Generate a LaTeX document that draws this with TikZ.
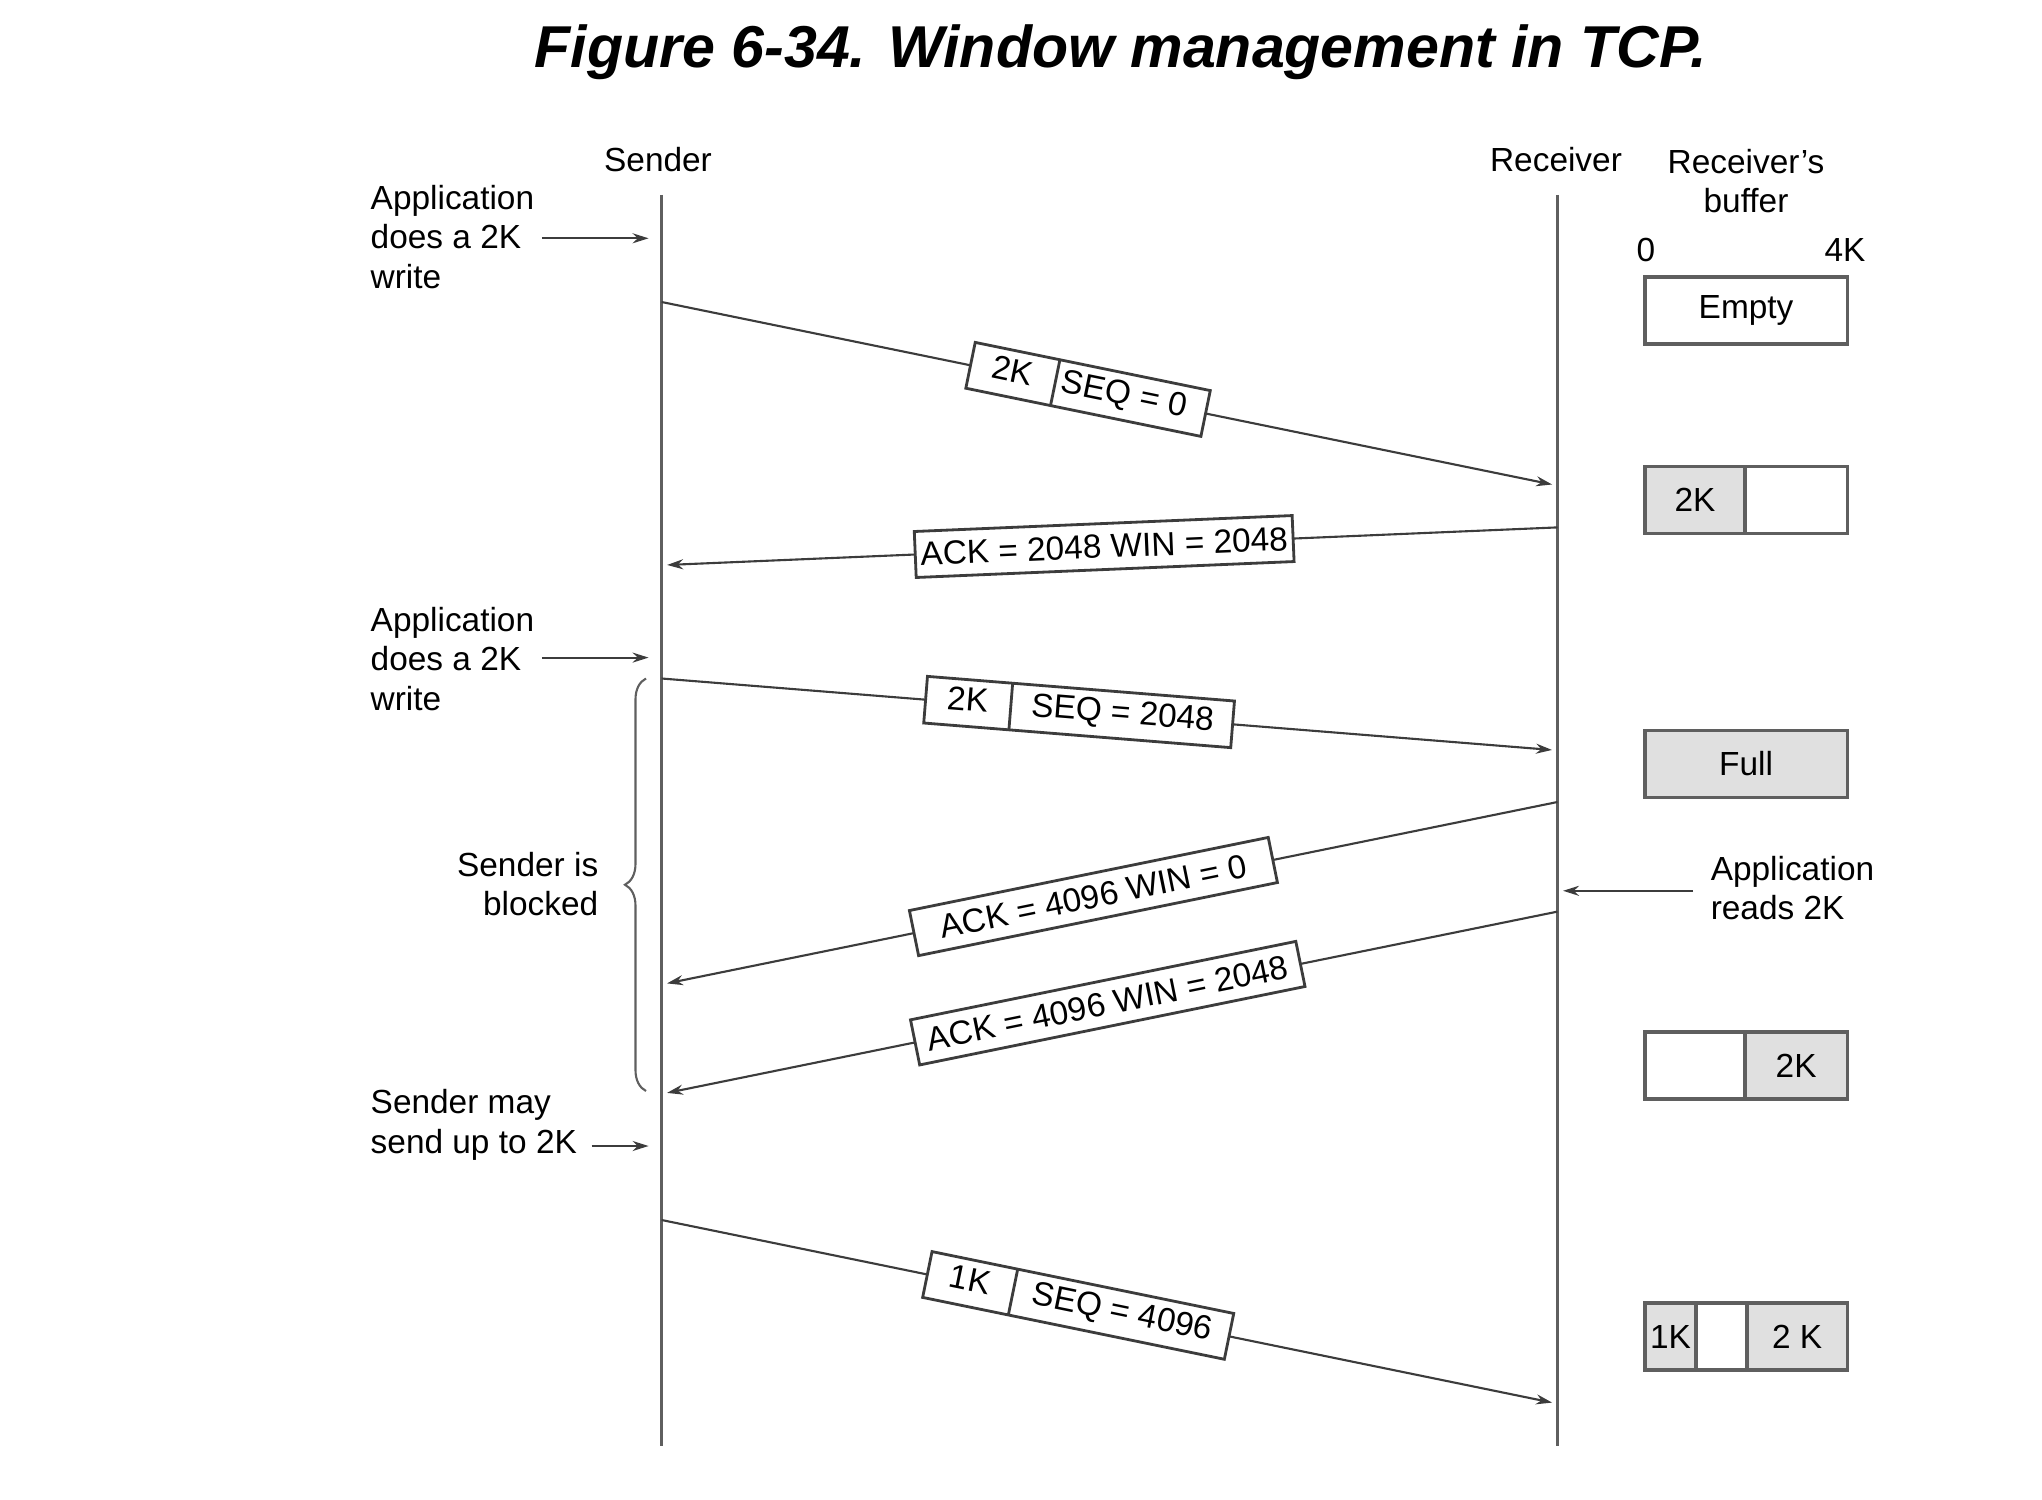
\documentclass[tikz,border=0pt]{standalone}
\usepackage{fontspec}
\setmainfont{Liberation Sans}
\usepackage{tikz}
\usetikzlibrary{shapes.multipart, arrows.meta, positioning, calc, decorations.pathreplacing}
\definecolor{lifegray}{RGB}{95, 95, 95}
\definecolor{linegray}{RGB}{60, 60, 60}
\definecolor{bufshade}{RGB}{224, 224, 224}

\begin{document}
\begin{tikzpicture}[x=0.01cm, y=-0.01cm,
  lbl/.style={font=\fontsize{9.5}{11.3}\selectfont, inner sep=2pt},
  lifeline/.style={draw=lifegray, line width=0.9pt},
  msg/.style={draw=linegray, line width=0.6pt, -{Stealth[length=1.6mm, width=1mm]}, shorten >=0.55mm},
  note/.style={draw=linegray, line width=0.6pt, -{Stealth[length=1.6mm, width=1mm]}},
  seg/.style={draw=linegray, line width=0.8pt, fill=white, rectangle split, rectangle split horizontal, rectangle split parts=2, inner xsep=0pt, inner ysep=1pt, font=\fontsize{9.5}{11.3}\selectfont, sloped},
  ackbox/.style={draw=linegray, line width=0.8pt, fill=white, inner sep=1pt, minimum height=0.46cm, font=\fontsize{9.5}{11.3}\selectfont, sloped},
  buf/.style={draw=lifegray, line width=0.9pt, minimum height=0.67cm, inner sep=0pt, outer sep=0pt, anchor=west, font=\fontsize{9.5}{11.3}\selectfont},
  fullbuf/.style={buf, fill=bufshade}]

  \useasboundingbox (0,0) rectangle (2042,1500);

  % Title
  \node[font=\fontsize{16.8}{20}\selectfont\bfseries\itshape] (title) at (1121,52) {Figure 6-34. Window management in TCP.};

  % Headers
  \node[lbl] (sndr) at (658,160) {Sender};
  \node[lbl] (rcvr) at (1556,160) {Receiver};
  \node[lbl, align=center] (rbuf) at (1746,181) {Receiver's\\buffer};
  \node[lbl] (zero) at (1646,250) {0};
  \node[lbl] (fourk) at (1845,250) {4K};

  % Lifelines
  \coordinate (stop) at (661.6,195);
  \coordinate (sbot) at (661.6,1446);
  \coordinate (rtop) at (1557.5,195);
  \coordinate (rbot) at (1557.5,1446);
  \draw[lifeline] (stop) -- (sbot);
  \draw[lifeline] (rtop) -- (rbot);

  % Segments and acknowledgements
  \coordinate (s1) at (661.6,302);
  \coordinate (r1) at (1557.5,485.6);
  \draw[msg] (s1) -- node[seg, pos=0.476] (seg1) {\makebox[8.5mm]{\strut 2K}\nodepart{two}\makebox[15.2mm][l]{\hspace{0.5mm}\strut SEQ = 0}} (r1);

  \coordinate (r2) at (1557.5,527.4);
  \coordinate (s2) at (661.6,565.2);
  \draw[msg] (r2) -- node[ackbox, pos=0.506, minimum width=3.78cm] (ack1) {ACK = 2048 WIN = 2048} (s2);

  \coordinate (s3) at (661.6,678.5);
  \coordinate (r3) at (1557.5,750.4);
  \draw[msg] (s3) -- node[seg, pos=0.466] (seg2) {\makebox[8.4mm]{\strut 2K}\nodepart{two}\makebox[22.1mm]{\strut SEQ = 2048}} (r3);

  \coordinate (r4) at (1557.5,802);
  \coordinate (s4) at (661.6,984.5);
  \draw[msg] (r4) -- node[ackbox, pos=0.518, minimum width=3.66cm] (ack2) {ACK = 4096 WIN = 0} (s4);

  \coordinate (r5) at (1557.5,911.6);
  \coordinate (s5) at (661.6,1094);
  \draw[msg] (r5) -- node[ackbox, pos=0.502, minimum width=3.93cm] (ack3) {ACK = 4096 WIN = 2048} (s5);

  \coordinate (s6) at (661.6,1220);
  \coordinate (r6) at (1557.5,1403.7);
  \draw[msg] (s6) -- node[seg, pos=0.465] (seg3) {\makebox[8.6mm]{\strut 1K}\nodepart{two}\makebox[21.9mm]{\strut SEQ = 4096}} (r6);

  % Sender side notes
  \node[lbl, align=left, anchor=west] (write1) at (363,237) {Application\\does a 2K\\write};
  \coordinate (w1) at (661.6,238.3);
  \draw[note, shorten >=1.3mm] (write1.east |- w1) -- (w1);

  \node[lbl, align=left, anchor=west] (write2) at (363,659) {Application\\does a 2K\\write};
  \coordinate (w2) at (661.6,657.6);
  \draw[note, shorten >=1.3mm] (write2.east |- w2) -- (w2);

  \node[lbl, align=right, anchor=east] (blocked) at (606,884) {Sender is\\blocked};
  \coordinate (bt) at (646,678.5);
  \coordinate (bb) at (646,1091);
  \draw[lifegray, line width=0.6pt, decorate, decoration={brace, amplitude=2.1mm}] (bb) -- (bt);

  \node[lbl, align=left, anchor=west] (may) at (363,1125) {Sender may\\send up to 2K};
  \coordinate (w3) at (661.6,1146);
  \draw[note, shorten <=0.7mm, shorten >=1.3mm] (may.east |- w3) -- (w3);

  % Receiver side note
  \node[lbl, align=left, anchor=west] (reads) at (1703,888) {Application\\reads 2K};
  \coordinate (rd) at (1557.5,890.8);
  \draw[note, shorten <=1mm, shorten >=0.55mm] (reads.west |- rd) -- (rd);

  % Receiver's buffer
  \node[buf, minimum width=2.02cm] (empty) at (1645,310.5) {Empty};

  \node[fullbuf, minimum width=1.0cm] (b2a) at (1645,500) {2K};
  \node[buf, minimum width=1.02cm] (b2b) at (b2a.east) {};

  \node[fullbuf, minimum width=2.02cm] (full) at (1645,764) {Full};

  \node[buf, minimum width=1.0cm] (b4a) at (1645,1065.5) {};
  \node[fullbuf, minimum width=1.02cm] (b4b) at (b4a.east) {2K};

  \node[fullbuf, minimum width=0.51cm] (b5a) at (1645,1336.5) {1K};
  \node[buf, minimum width=0.51cm] (b5b) at (b5a.east) {};
  \node[fullbuf, minimum width=1.0cm] (b5c) at (b5b.east) {2 K};
\end{tikzpicture}
\end{document}
